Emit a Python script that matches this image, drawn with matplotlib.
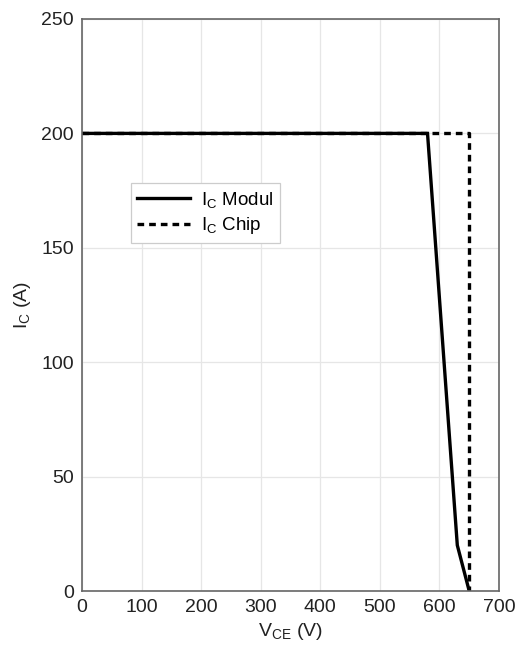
import matplotlib
matplotlib.use("Agg")
import matplotlib.pyplot as plt

plt.rcParams['font.family'] = ['Liberation Sans', 'DejaVu Sans']
plt.rcParams['mathtext.fontset'] = 'custom'
plt.rcParams['mathtext.rm'] = 'Liberation Sans'
plt.rcParams['mathtext.it'] = 'Liberation Sans'

# Safe operating area: collector current vs. collector-emitter voltage
vce_modul = [0, 580, 630, 650]
ic_modul = [200, 200, 20, 0]
vce_chip = [0, 650, 650]
ic_chip = [200, 200, 0]

x_ticks = [0, 100, 200, 300, 400, 500, 600, 700]
y_ticks = [0, 50, 100, 150, 200, 250]

fig = plt.figure(figsize=(5.18, 6.48), dpi=100)
ax = fig.add_axes([82 / 518, 1 - 591 / 648, 417 / 518, 572 / 648])

ax.plot(vce_modul, ic_modul, color='black', lw=2.4, solid_joinstyle='miter',
        label=r'I$_\mathregular{C}$ Modul')
ax.plot(vce_chip, ic_chip, color='black', lw=2.4, ls=(0, (2.0, 1.5)),
        label=r'I$_\mathregular{C}$ Chip')

ax.set_xlim(0, 700)
ax.set_ylim(0, 250)
ax.set_xticks(x_ticks)
ax.set_yticks(y_ticks)
ax.grid(True, color='#e6e6e6', lw=0.9)
ax.set_axisbelow(True)
ax.tick_params(length=0, labelsize=14, pad=6, colors='#222222')
for s in ax.spines.values():
    s.set_color('#666666')
    s.set_linewidth(1.2)

ax.set_xlabel(r'V$_\mathregular{CE}$ (V)', fontsize=14, color='#222222', labelpad=3)
ax.set_ylabel(r'I$_\mathregular{C}$ (A)', fontsize=14, color='#222222', labelpad=6)

leg = ax.legend(loc='upper left', bbox_to_anchor=(0.117, 0.713), fontsize=13.5,
                fancybox=False, framealpha=1, edgecolor='#cccccc',
                handlelength=2.8, borderpad=0.35, labelspacing=0.3,
                handletextpad=0.6, borderaxespad=0)
leg.get_frame().set_linewidth(0.9)

fig.savefig('out.png', dpi=100, facecolor='white')
